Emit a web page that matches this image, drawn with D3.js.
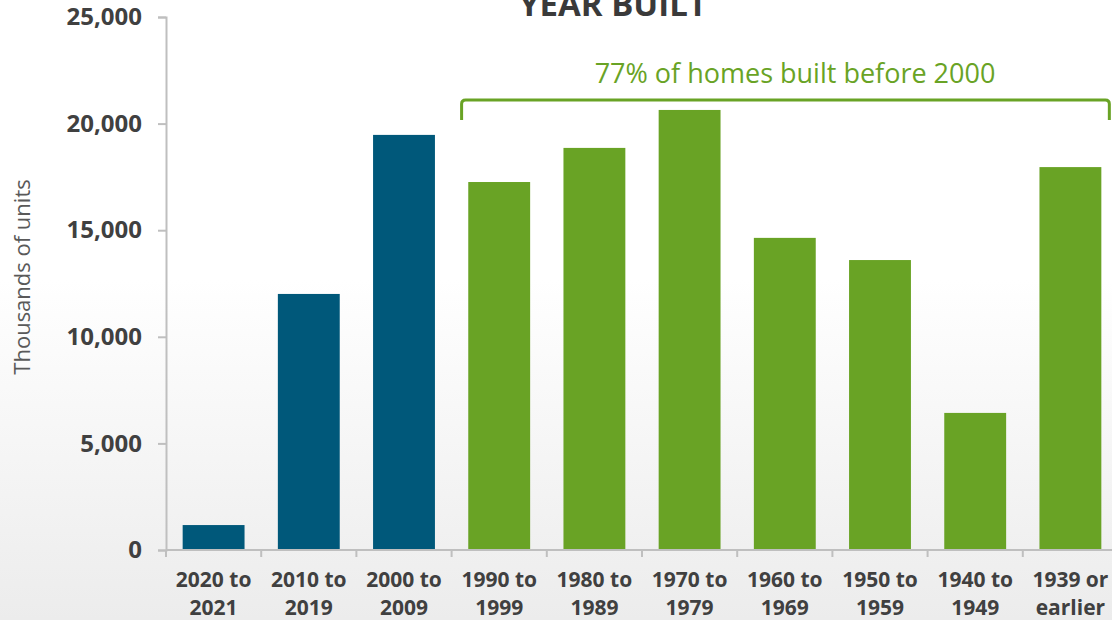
<!DOCTYPE html>
<html>
<head>
<meta charset="utf-8">
<script src="https://cdn.jsdelivr.net/npm/d3@7"></script>
<style>
  html, body { margin: 0; padding: 0; }
  body { width: 1112px; height: 620px; overflow: hidden; }
  svg { display: block; }
  svg text { font-family: "Open Sans", "Noto Sans", sans-serif; }
</style>
</head>
<body>
<div id="chart"></div>
<script>
// data
const categories = ["2020 to|2021", "2010 to|2019", "2000 to|2009", "1990 to|1999", "1980 to|1989",
                    "1970 to|1979", "1960 to|1969", "1950 to|1959", "1940 to|1949", "1939 or|earlier"];
const units = [1170, 12010, 19470, 17260, 18860, 20640, 14640, 13600, 6430, 17960];
const before2000 = [false, false, false, true, true, true, true, true, true, true];
const yTicks = [0, 5000, 10000, 15000, 20000, 25000];
const titleText = "YEAR BUILT";
const bracketText = "77% of homes built before 2000";
const yLabel = "Thousands of units";

const W = 1112, H = 620;
const margin = { top: 17, right: -6, bottom: 70, left: 166 };
const blue = "#00587a", green = "#69a325", axisGray = "#bfbfbf", textGray = "#404040";

const svg = d3.select("#chart").append("svg")
  .attr("width", W)
  .attr("height", H);

// background gradient: white on top, light gray at the bottom
const grad = svg.append("defs").append("linearGradient")
  .attr("id", "bg").attr("x1", 0).attr("y1", 0).attr("x2", 0).attr("y2", 1);
grad.append("stop").attr("offset", "0%").attr("stop-color", "#ffffff");
grad.append("stop").attr("offset", "45%").attr("stop-color", "#ffffff");
grad.append("stop").attr("offset", "100%").attr("stop-color", "#ececec");
svg.append("rect").attr("width", W).attr("height", H).attr("fill", "url(#bg)");

const x = d3.scaleBand()
  .domain(categories)
  .range([margin.left, W - margin.right])
  .paddingInner(0.35)
  .paddingOuter(0.175);

const y = d3.scaleLinear()
  .domain([0, 25000])
  .range([H - margin.bottom, margin.top]);

// bars
svg.append("g").selectAll("rect")
  .data(categories)
  .join("rect")
  .attr("x", d => x(d))
  .attr("y", (d, i) => y(units[i]))
  .attr("width", x.bandwidth())
  .attr("height", (d, i) => y(0) - y(units[i]))
  .attr("fill", (d, i) => before2000[i] ? green : blue);

// y axis
const yAxis = svg.append("g")
  .attr("transform", "translate(" + margin.left + ",0)")
  .call(d3.axisLeft(y).tickValues(yTicks).tickFormat(d3.format(",")).tickSize(8).tickPadding(16));
yAxis.attr("font-family", null).attr("font-size", null);
yAxis.select(".domain").attr("stroke", axisGray).attr("stroke-width", 2);
yAxis.selectAll(".tick line").attr("stroke", axisGray).attr("stroke-width", 2);
yAxis.selectAll(".tick text")
  .attr("fill", textGray)
  .attr("font-size", 24)
  .attr("font-weight", 700);

// x axis (ticks sit on band boundaries)
const xAxis = svg.append("g")
  .attr("transform", "translate(0," + y(0) + ")");
xAxis.append("line")
  .attr("x1", margin.left).attr("x2", W - margin.right)
  .attr("stroke", axisGray).attr("stroke-width", 2);
const step = x.step();
const bounds = categories.map((d, i) => i === 0 ? margin.left : x(d) - step * x.paddingInner() / 2);
xAxis.selectAll("line.tk")
  .data(bounds)
  .join("line")
  .attr("class", "tk")
  .attr("x1", d => d).attr("x2", d => d)
  .attr("y1", 0).attr("y2", 7)
  .attr("stroke", axisGray).attr("stroke-width", 2);
const lab = xAxis.selectAll("text.lab")
  .data(categories)
  .join("text")
  .attr("class", "lab")
  .attr("x", d => x(d) + x.bandwidth() / 2)
  .attr("y", 37)
  .attr("text-anchor", "middle")
  .attr("fill", textGray)
  .attr("font-size", 21)
  .attr("font-weight", 700);
lab.each(function(d) {
  const parts = d.split("|");
  d3.select(this).selectAll("tspan")
    .data(parts)
    .join("tspan")
    .attr("x", x(d) + x.bandwidth() / 2)
    .attr("dy", (p, i) => i === 0 ? 0 : 28)
    .text(p => p);
});

// y axis title
svg.append("text")
  .attr("transform", "translate(30,277) rotate(-90)")
  .attr("text-anchor", "middle")
  .attr("fill", "#595959")
  .attr("font-size", 22)
  .text(yLabel);

// chart title, clipped by the top edge
svg.append("text")
  .attr("x", 613)
  .attr("y", 16)
  .attr("text-anchor", "middle")
  .attr("fill", "#3a3a3a")
  .attr("font-size", 33)
  .attr("font-weight", 700)
  .text(titleText);

// bracket over the pre-2000 bars
const bx1 = x(categories[3]) - step * x.paddingInner() / 2 + 10;
const bx2 = x(categories[9]) + x.bandwidth() + 8;
const by = 100;
svg.append("path")
  .attr("d", "M" + bx1 + "," + (by + 20) + "V" + (by + 4) + "Q" + bx1 + "," + by + " " + (bx1 + 4) + "," + by +
             "H" + (bx2 - 4) + "Q" + bx2 + "," + by + " " + bx2 + "," + (by + 4) + "V" + (by + 20))
  .attr("fill", "none")
  .attr("stroke", green)
  .attr("stroke-width", 3);
svg.append("text")
  .attr("x", 795)
  .attr("y", 83)
  .attr("text-anchor", "middle")
  .attr("fill", green)
  .attr("font-size", 27)
  .text(bracketText);
</script>
</body>
</html>
